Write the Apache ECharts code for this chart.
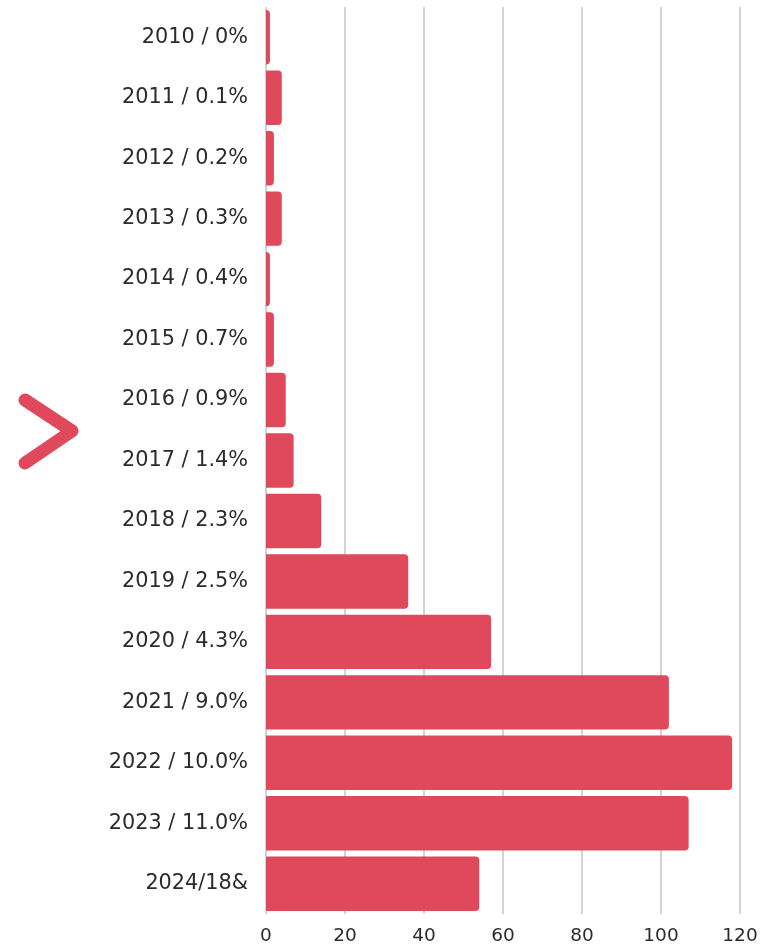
<!DOCTYPE html>
<html><head><meta charset="utf-8">
<script src="https://cdn.jsdelivr.net/npm/echarts@6/dist/echarts.min.js"></script>
<style>html,body{margin:0;padding:0;background:#fff}#c{width:766px;height:947px}</style>
</head><body><div id="c"></div>
<script>
const categories = ["2010 / 0%","2011 / 0.1%","2012 / 0.2%","2013 / 0.3%","2014 / 0.4%","2015 / 0.7%","2016 / 0.9%","2017 / 1.4%","2018 / 2.3%","2019 / 2.5%","2020 / 4.3%","2021 / 9.0%","2022 / 10.0%","2023 / 11.0%","2024/18&"];
const values = [1,4,2,4,1,2,5,7,14,36,57,102,118,107,54];
const xTicks = [0,20,40,60,80,100,120];
const barColor = "#e0485c";
const chart = echarts.init(document.getElementById('c'));
chart.setOption({
  animation:false,
  grid:{left:266,right:26,top:7,bottom:33,containLabel:false},
  xAxis:{type:'value',min:xTicks[0],max:xTicks[xTicks.length-1],interval:20,
    axisLine:{show:false},axisTick:{show:false},
    axisLabel:{color:'#2b2b2b',fontSize:18.5,fontFamily:'DejaVu Sans',margin:13},
    splitLine:{show:true,lineStyle:{color:'#d3d3d3',width:2}}},
  yAxis:{type:'category',data:categories,inverse:true,
    axisLine:{show:false},axisTick:{show:false},
    axisLabel:{color:'#2b2b2b',fontSize:20.8,fontFamily:'DejaVu Sans',margin:18}},
  series:[{type:'bar',data:values,barCategoryGap:'10%',
    itemStyle:{color:barColor,borderRadius:[0,4,4,0]}}],
  graphic:[{type:'polyline',shape:{points:[[25,400],[72,431],[25,463]]},
    style:{stroke:barColor,lineWidth:13,lineCap:'round',lineJoin:'round',fill:null}}]
});
</script></body></html>
